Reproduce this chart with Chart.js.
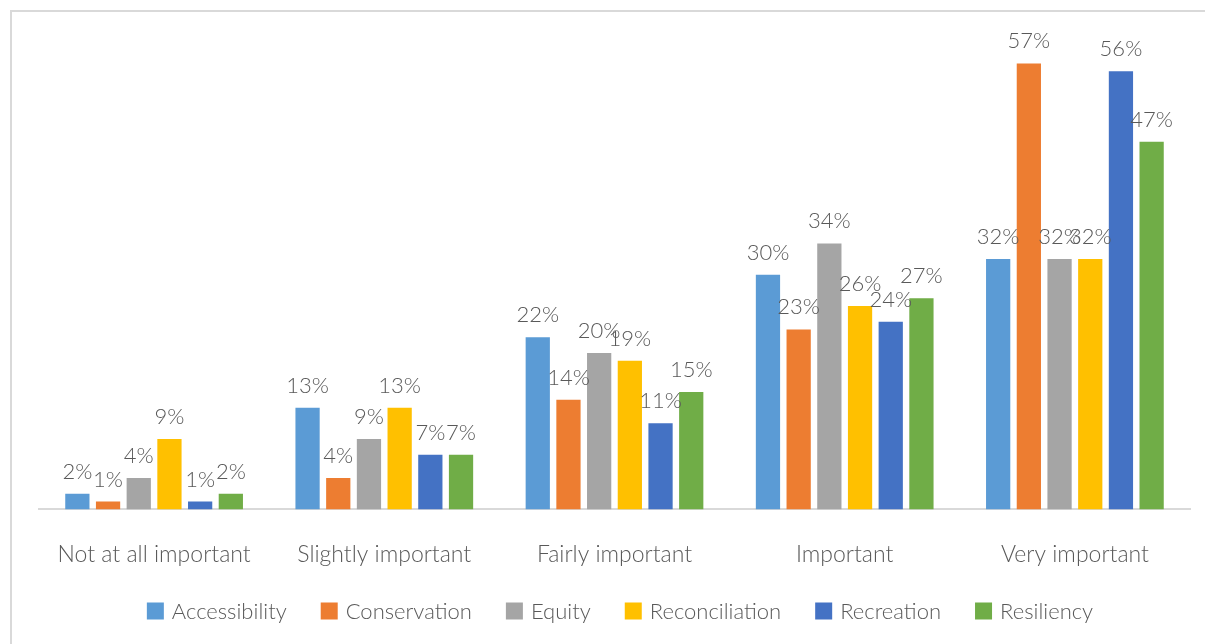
<!DOCTYPE html>
<html>
<head>
<meta charset="utf-8">
<script src="https://cdn.jsdelivr.net/npm/chart.js@4.4.1/dist/chart.umd.min.js"></script>
<style>
    body { margin: 0; background: #fff; overflow: hidden; }
    #wrap { position: relative; width: 1205px; height: 644px; }
    #frame { position: absolute; left: 10px; top: 10px; width: 1300px; height: 800px; border-left: 2px solid #d9d9d9; border-top: 2px solid #d9d9d9; }
    #myCanvas { position: absolute; left: 0; top: 0; }
</style>
</head>
<body>
<div id="wrap">
    <div id="frame"></div>
    <canvas id="myCanvas" width="1205" height="644"></canvas>
</div>
<script>
const categories = ["Not at all important", "Slightly important", "Fairly important", "Important", "Very important"]

const accessibility = [2, 13, 22, 30, 32]
const conservation = [1, 4, 14, 23, 57]
const equity = [4, 9, 20, 34, 32]
const reconciliation = [9, 13, 19, 26, 32]
const recreation = [1, 7, 11, 24, 56]
const resiliency = [2, 7, 15, 27, 47]

const textColor = "#595959"
const fontFamily = "Lato, 'Open Sans', sans-serif"

// percent labels on top of every bar
const barLabels = {
    id: "barLabels",
    afterDatasetsDraw(chart) {
        let ctx = chart.ctx
        ctx.save()
        ctx.font = "300 22px " + fontFamily
        ctx.fillStyle = textColor
        ctx.textAlign = "center"
        ctx.textBaseline = "alphabetic"
        chart.data.datasets.forEach((ds, i) => {
            chart.getDatasetMeta(i).data.forEach((bar, j) => {
                ctx.fillText(ds.data[j] + "%", bar.x, bar.y - 15)
            })
        })
        ctx.restore()
    }
}

// legend row under the axis, wider spacing than the built-in one allows
const bottomLegend = {
    id: "bottomLegend",
    afterDraw(chart) {
        let ctx = chart.ctx
        let box = 17, gap = 8, spacing = 34, y = 611
        ctx.save()
        ctx.font = "300 22px " + fontFamily
        ctx.textBaseline = "middle"
        ctx.textAlign = "left"
        let sets = chart.data.datasets
        let total = 0
        sets.forEach((ds, i) => {
            total += box + gap + ctx.measureText(ds.label).width
            if (i < sets.length - 1) total += spacing
        })
        let x = 620 - total / 2
        sets.forEach((ds) => {
            ctx.fillStyle = ds.backgroundColor
            ctx.fillRect(x, y - box / 2, box, box)
            x += box + gap
            ctx.fillStyle = textColor
            ctx.fillText(ds.label, x, y + 1)
            x += ctx.measureText(ds.label).width + spacing
        })
        ctx.restore()
    }
}

function makeSet(label, data, color) {
    return {
        label: label,
        data: data,
        backgroundColor: color,
        borderWidth: 0,
        categoryPercentage: 0.8,
        barPercentage: 0.79,
    }
}

let ctx = document.getElementById("myCanvas").getContext("2d")

new Chart(ctx, {
    type: "bar",
    data: {
        labels: categories,
        datasets: [
            makeSet("Accessibility", accessibility, "#5b9bd5"),
            makeSet("Conservation", conservation, "#ed7d31"),
            makeSet("Equity", equity, "#a5a5a5"),
            makeSet("Reconciliation", reconciliation, "#ffc000"),
            makeSet("Recreation", recreation, "#4472c4"),
            makeSet("Resiliency", resiliency, "#70ad47"),
        ],
    },
    options: {
        responsive: false,
        animation: false,
        layout: { padding: { left: 39, right: 15, top: 40, bottom: 45 } },
        scales: {
            x: {
                grid: { display: false, drawTicks: false },
                border: { color: "#d9d9d9", width: 2 },
                ticks: { color: textColor, font: { family: fontFamily, size: 23, weight: 300 }, padding: 31 },
            },
            y: {
                display: false,
                min: 0,
                max: 60,
            },
        },
        plugins: {
            tooltip: { enabled: false },
            legend: { display: false },
        },
    },
    plugins: [barLabels, bottomLegend],
})
</script>
</body>
</html>
